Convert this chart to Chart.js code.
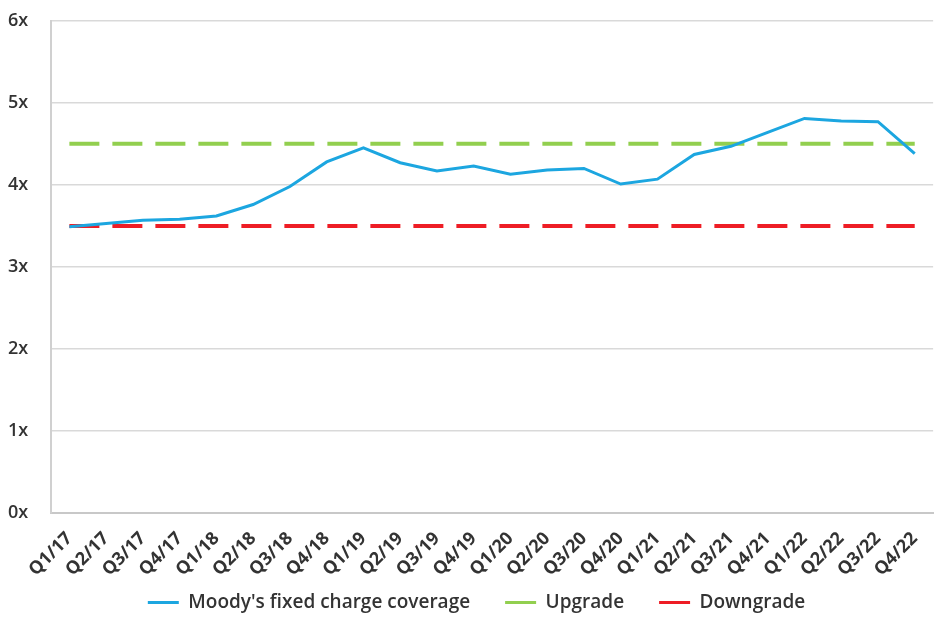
<!DOCTYPE html>
<html>
<head>
<meta charset="utf-8">
<script src="https://cdn.jsdelivr.net/npm/chart.js@4.4.1/dist/chart.umd.min.js"></script>
<style>
  html, body { margin: 0; padding: 0; background: #ffffff; overflow: hidden; }
  #wrap { position: relative; width: 945px; height: 619px; }
</style>
</head>
<body>
<div id="wrap"><canvas id="chart"></canvas></div>
<script>
// Quarterly periods
const quarters = [
  'Q1/17','Q2/17','Q3/17','Q4/17',
  'Q1/18','Q2/18','Q3/18','Q4/18',
  'Q1/19','Q2/19','Q3/19','Q4/19',
  'Q1/20','Q2/20','Q3/20','Q4/20',
  'Q1/21','Q2/21','Q3/21','Q4/21',
  'Q1/22','Q2/22','Q3/22','Q4/22'
];

// Moody's fixed charge coverage (x)
const coverage = [
  3.49, 3.53, 3.57, 3.58,
  3.62, 3.76, 3.98, 4.28,
  4.45, 4.27, 4.17, 4.23,
  4.13, 4.18, 4.20, 4.01,
  4.07, 4.37, 4.47, 4.64,
  4.81, 4.78, 4.77, 4.38
];

// Rating thresholds (x)
const upgradeLevel = 4.5;
const downgradeLevel = 3.5;
const upgrade = quarters.map(() => upgradeLevel);
const downgrade = quarters.map(() => downgradeLevel);

// Y axis tick values
const yTicks = [0, 1, 2, 3, 4, 5, 6];

const textColor = '#333333';
const gridColor = '#d9d9d9';

new Chart(document.getElementById('chart'), {
  type: 'line',
  data: {
    labels: quarters,
    datasets: [
      {
        label: "Moody's fixed charge coverage",
        data: coverage,
        borderColor: '#1ca6e0',
        backgroundColor: '#1ca6e0',
        borderWidth: 3,
        pointRadius: 0,
        tension: 0,
        order: 0
      },
      {
        label: 'Upgrade',
        data: upgrade,
        borderColor: '#92cf4f',
        backgroundColor: '#92cf4f',
        borderWidth: 4,
        borderDash: [30, 13],
        pointRadius: 0,
        order: 1
      },
      {
        label: 'Downgrade',
        data: downgrade,
        borderColor: '#ee1d25',
        backgroundColor: '#ee1d25',
        borderWidth: 4,
        borderDash: [30, 13],
        pointRadius: 0,
        order: 1
      }
    ]
  },
  options: {
    responsive: true,
    maintainAspectRatio: false,
    animation: false,
    layout: { padding: { top: 0, right: 0, bottom: 0, left: 8 } },
    plugins: {
      tooltip: { enabled: false },
      legend: {
        position: 'bottom',
        maxHeight: 61,
        labels: {
          color: textColor,
          font: { family: 'Open Sans', size: 19, weight: '600' },
          boxWidth: 31,
          boxHeight: 3,
          padding: 35,
          generateLabels(chart) {
            return chart.data.datasets.map((ds, i) => ({
              text: ds.label,
              fillStyle: ds.borderColor,
              strokeStyle: ds.borderColor,
              lineWidth: 0,
              lineDash: [],
              hidden: false,
              datasetIndex: i,
              fontColor: textColor
            }));
          }
        }
      }
    },
    scales: {
      x: {
        offset: true,
        afterFit(scale) {
          // compact axis box; the slanted labels may run below it
          scale.height = 45;
          scale._computeLabelArea = () => null;
        },
        grid: { display: false, drawTicks: false },
        border: { display: true, color: '#c8c8c8', width: 2 },
        ticks: {
          color: textColor,
          font: { family: 'Open Sans', size: 18, weight: 'bold' },
          minRotation: 45,
          maxRotation: 45,
          autoSkip: false,
          padding: 15
        }
      },
      y: {
        min: 0,
        max: 6,
        afterBuildTicks(scale) {
          scale.ticks = yTicks.map(v => ({ value: v }));
        },
        afterFit(scale) { scale.width = 43; },
        grid: { color: gridColor, lineWidth: 1.5, drawTicks: false },
        border: { display: true, color: '#d0d0d0', width: 2 },
        ticks: {
          color: textColor,
          font: { family: 'Open Sans', size: 18, weight: '600' },
          crossAlign: 'far',
          padding: 10,
          callback: v => v + 'x'
        }
      }
    }
  }
});
</script>
</body>
</html>
